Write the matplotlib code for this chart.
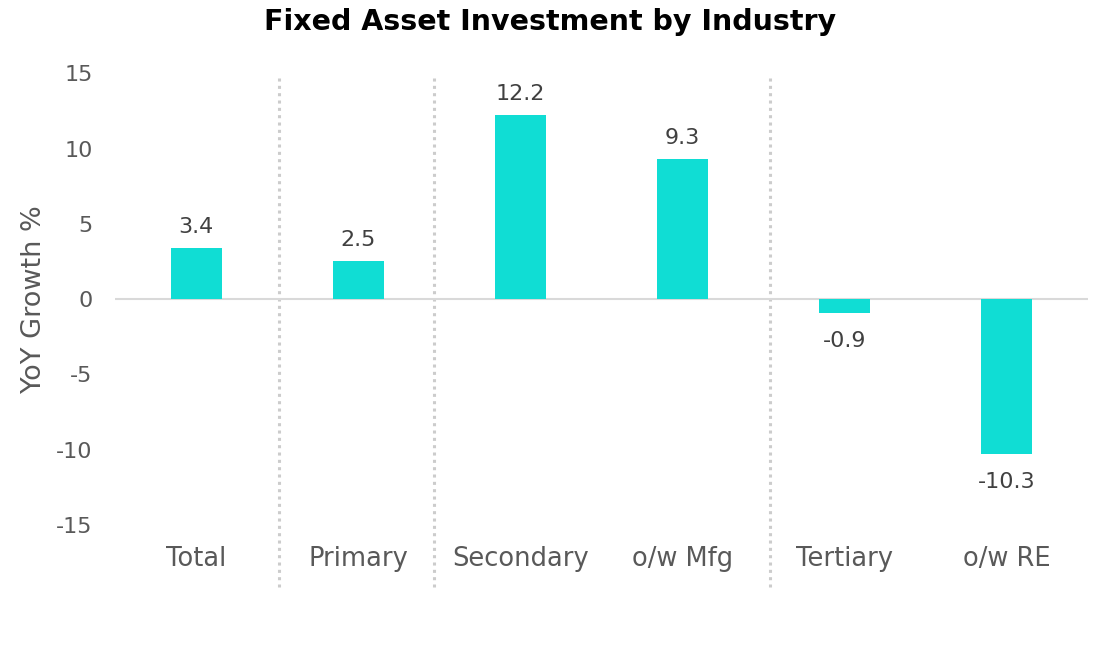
import matplotlib.pyplot as plt
import numpy as np

categories = ["Total", "Primary", "Secondary", "o/w Mfg", "Tertiary", "o/w RE"]
growth = [3.4, 2.5, 12.2, 9.3, -0.9, -10.3]
y_ticks = [-15, -10, -5, 0, 5, 10, 15]
separators = [0.51, 1.47, 3.54]

BAR_COLOR = "#10DDD4"
TEXT_COLOR = "#404040"
TICK_COLOR = "#595959"

plt.rcParams["font.family"] = ["DejaVu Sans"]

fig = plt.figure(figsize=(10.97, 6.51), dpi=100)
ax = fig.add_axes([0.1048, 0.1935, 0.887, 0.694])

x = np.arange(len(categories))
ax.bar(x, growth, width=0.315, color=BAR_COLOR, zorder=3)

for xi, v in zip(x, growth):
    off = 8 if v >= 0 else -13
    ax.annotate(f"{v:.1f}", (xi, v), xytext=(0, off), textcoords="offset points",
                ha="center", va="bottom" if v >= 0 else "top",
                fontsize=16, color=TEXT_COLOR)

ax.axhline(0, color="#d9d9d9", lw=1.5, zorder=2)

for s in separators:
    ax.plot([s, s], [14.7, -19.1], color="#cccccc", lw=2.2, ls=(0, (1, 1.4)),
            clip_on=False, zorder=1)

ax.set_xlim(-0.5, 5.5)
ax.set_ylim(-15, 15)
ax.set_yticks(y_ticks)
ax.set_yticklabels([str(t) for t in y_ticks])
ax.set_xticks(x)
ax.set_xticklabels(categories)
ax.tick_params(axis="both", length=0, labelcolor=TICK_COLOR)
ax.tick_params(axis="y", pad=16, labelsize=16)
ax.tick_params(axis="x", pad=15, labelsize=18.5)
for sp in ax.spines.values():
    sp.set_visible(False)

ax.set_ylabel("YoY Growth %", fontsize=19.5, color=TICK_COLOR, labelpad=7)

fig.text(0.501, 0.966, "Fixed Asset Investment by Industry", ha="center", va="center",
         fontsize=20.5, fontweight="bold", color="black")

fig.savefig("out.png", dpi=100)
